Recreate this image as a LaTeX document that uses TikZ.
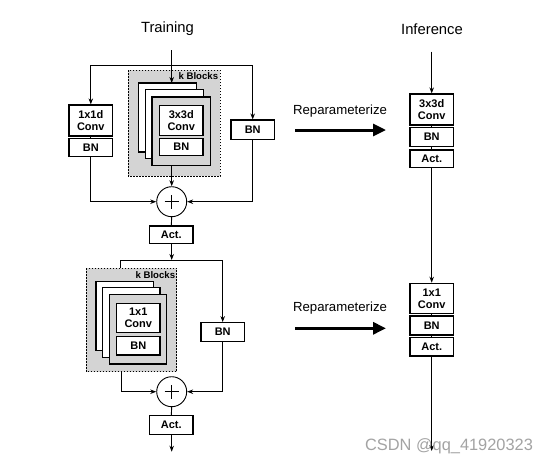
\documentclass[tikz,border=0pt]{standalone}
\usepackage{fontspec}
\setmainfont{Liberation Sans}
\usetikzlibrary{arrows.meta}
\begin{document}
\begin{tikzpicture}[x=1pt,y=-1pt,
  box/.style={draw,line width=1.2pt,fill=white,inner sep=0pt,minimum width=43.5pt,align=center,font=\fontsize{11}{12}\selectfont\bfseries},
  layer/.style={draw,line width=1.3pt,fill=white},
  region/.style={draw,line width=1pt,dash pattern=on 1.6pt off 1.4pt,fill=black!17},
  conn/.style={line width=0.9pt},
  arr/.style={conn,-{Stealth[length=6pt,width=4.5pt]}},
  bigarr/.style={line width=3pt,-{Triangle[length=13pt,width=12pt]}},
  title/.style={font=\fontsize{14.8}{16}\selectfont},
  lab/.style={font=\fontsize{13.2}{15}\selectfont},
  kb/.style={font=\fontsize{9.6}{10}\selectfont\bfseries,inner sep=0pt,anchor=east}]
\useasboundingbox[fill=white] (0,0) rectangle (549,464);

% titles
\node[title] (ttrain) at (167.5,29) {Training};
\node[title] (tinf) at (432,29) {Inference};

% ================= top training block =================
\coordinate (in1) at (171.7,50);
\coordinate (hl) at (90.8,65);
\coordinate (hr) at (252.7,65);
\coordinate (hm) at (171.7,65);
\draw[region] (128.3,70) rectangle (220,176.3);
\node[kb] (kb1) at (218.3,76.5) {k Blocks};
\draw[layer] (138.7,83) rectangle (196.7,152);
\draw[layer] (145.3,89.7) rectangle (203.7,158.7);
\draw[layer,fill=black!17] (152,97) rectangle (210.3,165.3);
\coordinate (stacktop1) at (171.7,83);
\coordinate (stackbot1) at (171.7,165.3);
\node[box,minimum height=29.6pt] (iconv1) at (181.3,120.5) {3x3d\\Conv};
\node[box,minimum height=17pt] (ibn1) at (181.3,147) {BN};

\node[box,minimum height=31pt] (c1) at (90.8,120.5) {1x1d\\Conv};
\node[box,minimum height=18.5pt] (bn1) at (90.8,147.5) {BN};
\node[box,minimum height=19.3pt] (bnr1) at (252.7,129.7) {BN};
\node[circle,draw,line width=0.9pt,minimum size=30pt,inner sep=0pt] (add1) at (171.7,201.7) {};
\draw[line width=0.6pt] ([xshift=-7pt]add1.center) -- ([xshift=7pt]add1.center);
\draw[line width=0.6pt] ([yshift=-7pt]add1.center) -- ([yshift=7pt]add1.center);
\node[box,minimum height=17.3pt] (act1) at (171.3,234.7) {Act.};

\draw[arr] (in1) -- (stacktop1);
\draw[conn] (hl) -- (hr);
\draw[arr] (hl) -- (c1.north);
\draw[conn] (c1.south) -- (bn1.north);
\draw[arr] (hr) -- (bnr1.north);
\draw[arr] (stackbot1) -- (add1.north);
\draw[arr] (bn1.south) |- (add1.west);
\draw[arr] (bnr1.south) |- (add1.east);
\draw[conn] (add1.south) -- (act1.north);

% ================= bottom training block =================
\coordinate (hm2) at (171.7,260);
\coordinate (hl2) at (120.7,260);
\coordinate (hr2) at (222.7,260);
\draw[region] (86,268.3) rectangle (176.7,371.7);
\node[kb] (kb2) at (175.3,275) {k Blocks};
\draw[layer] (96,281.2) rectangle (153.4,350.7);
\draw[layer] (102.7,287.8) rectangle (160,357.4);
\draw[layer,fill=black!17] (109.3,294.3) rectangle (166.7,364);
\node[box,minimum height=29.4pt] (iconv2) at (138.3,318) {1x1\\Conv};
\node[box,minimum height=18.3pt] (ibn2) at (138.3,345.8) {BN};
\coordinate (regtop2) at (120.7,268.3);
\coordinate (regbot2) at (121.7,371.7);

\node[box,minimum height=19pt] (bnr2) at (222.7,332.2) {BN};
\node[circle,draw,line width=0.9pt,minimum size=30pt,inner sep=0pt] (add2) at (171.7,391.7) {};
\draw[line width=0.6pt] ([xshift=-7pt]add2.center) -- ([xshift=7pt]add2.center);
\draw[line width=0.6pt] ([yshift=-7pt]add2.center) -- ([yshift=7pt]add2.center);
\node[box,minimum height=18.6pt] (act2) at (171.3,425) {Act.};
\coordinate (out2) at (171.7,451.7);

\draw[arr] (act1.south -| hm2) -- (hm2);
\draw[conn] (regtop2) |- (hr2);
\draw[arr] (hr2) -- (bnr2.north);
\draw[arr] (regbot2) |- (add2.west);
\draw[arr] (bnr2.south) |- (add2.east);
\draw[conn] (add2.south) -- (act2.north);
\draw[arr] (act2.south -| out2) -- (out2);

% ================= reparameterize arrows =================
\node[lab] (rp1) at (340,110.7) {Reparameterize};
\coordinate (ra1s) at (295,130);
\coordinate (ra1e) at (386,130);
\draw[bigarr] (ra1s) -- (ra1e);
\node[lab] (rp2) at (340,308.3) {Reparameterize};
\coordinate (ra2s) at (295,328.3);
\coordinate (ra2e) at (386,328.3);
\draw[bigarr] (ra2s) -- (ra2e);

% ================= inference =================
\coordinate (infin) at (431.7,51.7);
\node[box,minimum height=31pt] (rc1) at (431.7,109.5) {3x3d\\Conv};
\node[box,minimum height=19pt] (rbn1) at (431.7,137.2) {BN};
\node[box,minimum height=17.7pt] (ract1) at (431.7,158.8) {Act.};
\node[box,minimum height=30pt] (rc2) at (431.7,298.3) {1x1\\Conv};
\node[box,minimum height=19pt] (rbn2) at (431.7,325.5) {BN};
\node[box,minimum height=18.7pt] (ract2) at (431.7,346.6) {Act.};
\coordinate (infout) at (431.7,451);

\draw[arr] (infin) -- (rc1.north);
\draw[conn] (rc1.south) -- (rbn1.north);
\draw[conn] (rbn1.south) -- (ract1.north);
\draw[arr] (ract1.south) -- (rc2.north);
\draw[conn] (rc2.south) -- (rbn2.north);
\draw[conn] (rbn2.south) -- (ract2.north);
\draw[arr] (ract2.south) -- (infout);

% watermark
\node[font=\fontsize{16.4}{18}\selectfont,text=black!40,fill opacity=0,text opacity=0.9] (wm) at (449,446.7) {CSDN @qq\_41920323};
\end{tikzpicture}
\end{document}
